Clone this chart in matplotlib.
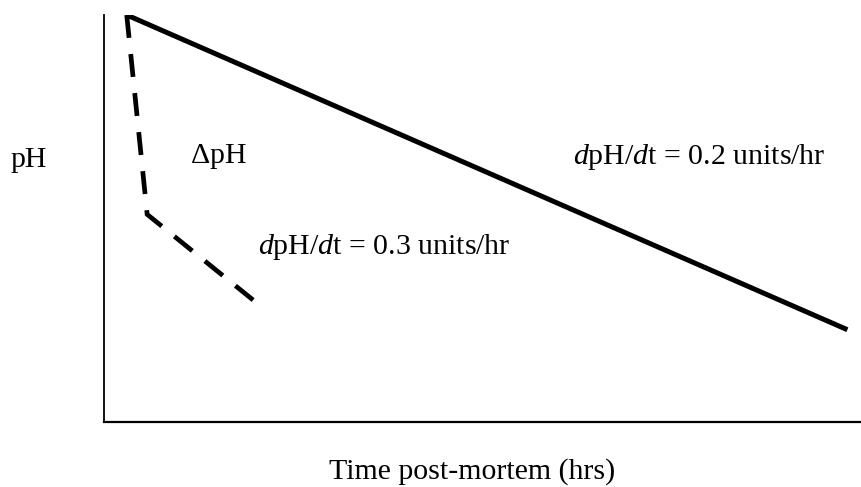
import numpy as np
import matplotlib
matplotlib.use("Agg")
import matplotlib.pyplot as plt

plt.rcParams['font.family'] = ['Liberation Serif', 'DejaVu Serif']
plt.rcParams['mathtext.fontset'] = 'custom'
plt.rcParams['mathtext.rm'] = 'Liberation Serif'
plt.rcParams['mathtext.it'] = 'Liberation Serif:italic'

# schematic values (hours, pH)
slow_t = [0.30, 9.82]
slow_ph = [7.0, 5.09]
fast_t = [0.30, 0.57, 1.97]
fast_ph = [7.0, 5.79, 5.27]

fig = plt.figure(figsize=(8.61, 4.87), dpi=100)
ax = fig.add_axes([0.1208, 0.1335, 0.8792, 0.8357])

ax.plot(slow_t, slow_ph, color='black', lw=3.6, solid_capstyle='butt')
ax.plot(fast_t, fast_ph, color='black', lw=3.4, ls=(0, (4.87, 3.44)),
        dash_capstyle='butt', dash_joinstyle='miter')

ax.set_xlim(0, 10)
ax.set_ylim(4.53, 7.0)
ax.set_xticks([])
ax.set_yticks([])
ax.spines['top'].set_visible(False)
ax.spines['right'].set_visible(False)
ax.spines['left'].set_linewidth(1.3)
ax.spines['bottom'].set_linewidth(1.6)

fs = 21.5
ax.text(1.14, 6.14, r'$\Delta$pH', fontsize=fs, va='center', ha='left')
ax.text(6.20, 6.14, r'$\mathit{d}$pH/$\mathit{d}$t = 0.2 units/hr', fontsize=fs,
        va='center', ha='left')
ax.text(2.03, 5.59, r'$\mathit{d}$pH/$\mathit{d}$t = 0.3 units/hr', fontsize=fs,
        va='center', ha='left')

fig.text(10/861, 1 - 160/487, 'pH', fontsize=fs, va='center', ha='left')
fig.text(472/861, 1 - 472/487, 'Time post-mortem (hrs)', fontsize=fs,
         va='center', ha='center')

fig.savefig('out.png', dpi=100)
